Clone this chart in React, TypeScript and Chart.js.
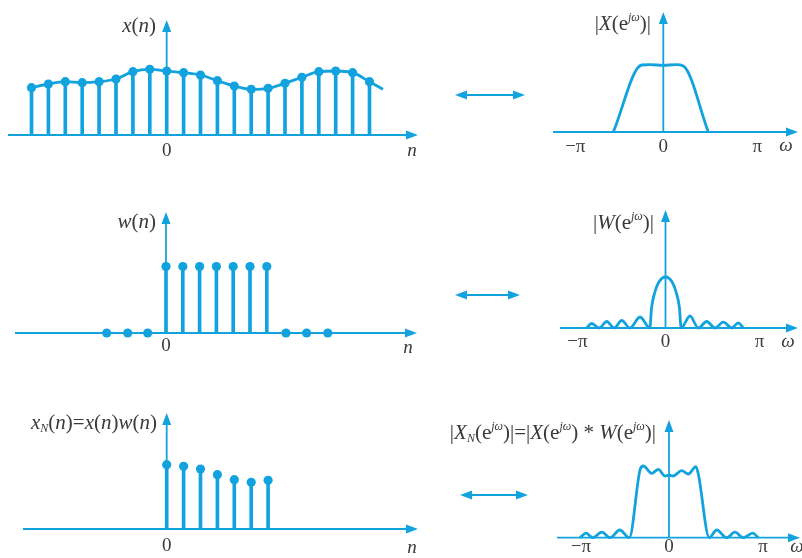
import React, { useEffect, useRef } from "react";
import { Chart, registerables } from "chart.js";
Chart.register(...registerables);

const BLUE = "#12a3de";
const TEXT = "#3a3a3a";
const SERIF = '"Liberation Serif", "DejaVu Serif", serif';

// ---------- data: x(n) ----------
const nX = [-8, -7, -6, -5, -4, -3, -2, -1, 0, 1, 2, 3, 4, 5, 6, 7, 8, 9, 10, 11, 12];
const xVals = [0.473, 0.51, 0.533, 0.523, 0.533, 0.56, 0.633, 0.657, 0.64, 0.623, 0.6, 0.543, 0.49, 0.457, 0.467, 0.517, 0.577, 0.633, 0.64, 0.623, 0.533];
const xTailN = [12.8];
const xTailVals = [0.457];

// ---------- data: w(n) ----------
const nW = [0, 1, 2, 3, 4, 5, 6];
const wVals = [0.665, 0.665, 0.665, 0.665, 0.665, 0.665, 0.665];
const wZeroN = [-3.53, -2.28, -1.09, 7.14, 8.37, 9.63];

// ---------- data: xN(n) ----------
const nXN = [0, 1, 2, 3, 4, 5, 6];
const xNVals = [0.643, 0.627, 0.6, 0.543, 0.493, 0.467, 0.487];

// ---------- data: spectra (omega in units of pi) ----------
const omegaX = [-0.543, -0.235, -0.145, 0, 0.138, 0.217, 0.489];
const magX = [0, 0.67, 0.673, 0.667, 0.673, 0.66, 0];

const omegaW = [-0.857, -0.802, -0.72, -0.639, -0.557, -0.476, -0.386, -0.277, -0.17, -0.152, -0.115, -0.072, 0, 0.072, 0.115, 0.152, 0.17, 0.266, 0.357, 0.448, 0.538, 0.628, 0.72, 0.791, 0.846];
const magW = [0, 0.045, 0, 0.065, 0, 0.075, 0, 0.11, 0, 0.2, 0.36, 0.46, 0.51, 0.46, 0.36, 0.2, 0, 0.12, 0, 0.065, 0, 0.058, 0, 0.052, 0];

const omegaXN = [-0.967, -0.9, -0.83, -0.73, -0.64, -0.535, -0.432, -0.315, -0.279, -0.188, -0.116, -0.043, 0, 0.043, 0.138, 0.21, 0.293, 0.318, 0.438, 0.518, 0.627, 0.717, 0.808, 0.91, 0.971];
const magXN = [0, 0.045, 0, 0.055, 0, 0.077, 0, 0.677, 0.717, 0.643, 0.683, 0.617, 0.625, 0.617, 0.67, 0.637, 0.71, 0.64, 0, 0.077, 0, 0.055, 0, 0.045, 0];

// ---------- tick labels ----------
const leftTicks = [{ v: 0, t: "0" }];
const rightTicks = [{ v: -1, t: "−π", dx: 4 }, { v: 0, t: "0", dx: 0 }, { v: 1, t: "π", dx: 2 }];

type Seg = { t: string; it?: boolean; sup?: boolean; sub?: boolean };

const pts = (xs: number[], ys: number[]) => xs.map((x, i) => ({ x, y: ys[i] }));

function drawRich(ctx: CanvasRenderingContext2D, segs: Seg[], x: number, y: number, align: "left" | "right" | "center", size: number) {
  const fontOf = (s: Seg) => `${s.it ? "italic " : ""}${s.sup || s.sub ? Math.round(size * 0.55) : size}px ${SERIF}`;
  let total = 0;
  const widths = segs.map((s) => {
    ctx.font = fontOf(s);
    const w = ctx.measureText(s.t).width;
    total += w;
    return w;
  });
  let cx = align === "left" ? x : align === "right" ? x - total : x - total / 2;
  ctx.textBaseline = "middle";
  ctx.textAlign = "left";
  segs.forEach((s, i) => {
    ctx.font = fontOf(s);
    const dy = s.sup ? -size * 0.3 : s.sub ? size * 0.28 : 0;
    ctx.fillText(s.t, cx, y + dy);
    cx += widths[i];
  });
}

type PanelCfg = {
  rect: { left: number; top: number; width: number; height: number };
  origin: { x: number; y: number };
  unit: { x: number; y: number };
  xAxis: [number, number];
  yAxisTop: number;
  datasets: any[];
  label: { segs: Seg[]; x: number; y: number };
  ticks: { v: number; t: string; dx?: number }[];
  tickY: number;
  varLabel: { t: string; x: number; y: number };
  arrow?: { y: number; x1: number; x2: number };
};

function head(ctx: CanvasRenderingContext2D, x: number, y: number, dir: "up" | "right" | "left") {
  const L = 12, H = 4.5;
  ctx.beginPath();
  if (dir === "up") {
    ctx.moveTo(x, y); ctx.lineTo(x - H, y + L); ctx.lineTo(x + H, y + L);
  } else if (dir === "right") {
    ctx.moveTo(x, y); ctx.lineTo(x - L, y - H); ctx.lineTo(x - L, y + H);
  } else {
    ctx.moveTo(x, y); ctx.lineTo(x + L, y - H); ctx.lineTo(x + L, y + H);
  }
  ctx.closePath();
  ctx.fill();
}

function Panel({ cfg }: { cfg: PanelCfg }) {
  const ref = useRef<HTMLCanvasElement>(null);
  useEffect(() => {
    const c = ref.current!;
    const { rect, origin, unit } = cfg;
    const xmin = (rect.left - origin.x) / unit.x;
    const xmax = (rect.left + rect.width - origin.x) / unit.x;
    const ymax = (origin.y - rect.top) / unit.y;
    const ymin = (origin.y - rect.top - rect.height) / unit.y;
    const lx = (p: number) => p - rect.left;
    const ly = (p: number) => p - rect.top;
    const deco = {
      id: "deco",
      beforeDatasetsDraw(chart: any) {
        const ctx: CanvasRenderingContext2D = chart.ctx;
        const xs = chart.scales.x, ys = chart.scales.y;
        const y0 = ys.getPixelForValue(0), x0 = xs.getPixelForValue(0);
        ctx.save();
        ctx.strokeStyle = BLUE;
        ctx.fillStyle = BLUE;
        ctx.lineWidth = 1.8;
        ctx.beginPath();
        ctx.moveTo(lx(cfg.xAxis[0]), y0);
        ctx.lineTo(lx(cfg.xAxis[1]) - 8, y0);
        ctx.moveTo(x0, y0);
        ctx.lineTo(x0, ly(cfg.yAxisTop) + 8);
        ctx.stroke();
        head(ctx, lx(cfg.xAxis[1]), y0, "right");
        head(ctx, x0, ly(cfg.yAxisTop), "up");
        if (cfg.arrow) {
          const a = cfg.arrow;
          ctx.lineWidth = 2;
          ctx.beginPath();
          ctx.moveTo(lx(a.x1) + 8, ly(a.y));
          ctx.lineTo(lx(a.x2) - 8, ly(a.y));
          ctx.stroke();
          head(ctx, lx(a.x1), ly(a.y), "left");
          head(ctx, lx(a.x2), ly(a.y), "right");
        }
        ctx.restore();
      },
      afterDraw(chart: any) {
        const ctx: CanvasRenderingContext2D = chart.ctx;
        const xs = chart.scales.x;
        ctx.save();
        ctx.fillStyle = TEXT;
        drawRich(ctx, cfg.label.segs, lx(cfg.label.x), ly(cfg.label.y), "right", 21);
        cfg.ticks.forEach((tk) => {
          drawRich(ctx, [{ t: tk.t }], xs.getPixelForValue(tk.v) + (tk.dx || 0), ly(cfg.tickY), "center", 19);
        });
        drawRich(ctx, [{ t: cfg.varLabel.t, it: true }], lx(cfg.varLabel.x), ly(cfg.varLabel.y), "center", 19);
        ctx.restore();
      },
    };
    const chart = new Chart(c, {
      type: "scatter",
      data: { datasets: cfg.datasets },
      options: {
        animation: false,
        responsive: false,
        maintainAspectRatio: false,
        events: [],
        layout: { padding: 0, autoPadding: false },
        plugins: { legend: { display: false }, tooltip: { enabled: false }, title: { display: false } },
        scales: {
          x: { type: "linear", display: false, min: xmin, max: xmax, offset: false },
          y: { type: "linear", display: false, min: ymin, max: ymax },
        },
      } as any,
      plugins: [deco],
    });
    return () => chart.destroy();
  }, []);
  const r = cfg.rect;
  return (
    <canvas
      ref={ref}
      width={r.width}
      height={r.height}
      style={{ position: "absolute", left: r.left, top: r.top, width: r.width, height: r.height }}
    />
  );
}

const stems = (xs: number[], ys: number[]) => ({
  type: "bar",
  data: pts(xs, ys),
  backgroundColor: BLUE,
  borderWidth: 0,
  barThickness: 3,
  order: 3,
});
const dots = (xs: number[], ys: number[]) => ({
  type: "scatter",
  data: pts(xs, ys),
  backgroundColor: BLUE,
  borderWidth: 0,
  pointRadius: 4.6,
  showLine: false,
  order: 1,
});
const curve = (xs: number[], ys: number[]) => ({
  type: "line",
  data: pts(xs, ys),
  borderColor: BLUE,
  borderWidth: 2.8,
  pointRadius: 0,
  fill: false,
  showLine: true,
  cubicInterpolationMode: "monotone",
  order: 2,
});

const panels: PanelCfg[] = [
  {
    rect: { left: 0, top: 0, width: 430, height: 175 },
    origin: { x: 166.7, y: 135 },
    unit: { x: 16.9, y: 100 },
    xAxis: [8, 418],
    yAxisTop: 20,
    datasets: [
      curve([...nX, ...xTailN], [...xVals, ...xTailVals]),
      stems(nX, xVals),
      dots(nX, xVals),
    ],
    label: { segs: [{ t: "x", it: true }, { t: "(" }, { t: "n", it: true }, { t: ")" }], x: 156, y: 26 },
    ticks: leftTicks,
    tickY: 151,
    varLabel: { t: "n", x: 412, y: 151 },
  },
  {
    rect: { left: 0, top: 185, width: 430, height: 180 },
    origin: { x: 166, y: 333 },
    unit: { x: 16.8, y: 100 },
    xAxis: [15, 417],
    yAxisTop: 212,
    datasets: [stems(nW, wVals), dots(nW, wVals), dots(wZeroN, wZeroN.map(() => 0))],
    label: { segs: [{ t: "w", it: true }, { t: "(" }, { t: "n", it: true }, { t: ")" }], x: 156, y: 222 },
    ticks: leftTicks,
    tickY: 346,
    varLabel: { t: "n", x: 408, y: 348 },
  },
  {
    rect: { left: 0, top: 380, width: 430, height: 178 },
    origin: { x: 166.7, y: 529 },
    unit: { x: 16.9, y: 100 },
    xAxis: [23, 418],
    yAxisTop: 413,
    datasets: [stems(nXN, xNVals), dots(nXN, xNVals)],
    label: {
      segs: [
        { t: "x", it: true }, { t: "N", it: true, sub: true }, { t: "(" }, { t: "n", it: true }, { t: ")=" },
        { t: "x", it: true }, { t: "(" }, { t: "n", it: true }, { t: ")" },
        { t: "w", it: true }, { t: "(" }, { t: "n", it: true }, { t: ")" },
      ],
      x: 157,
      y: 423,
    },
    ticks: leftTicks,
    tickY: 546,
    varLabel: { t: "n", x: 412, y: 548 },
  },
  {
    rect: { left: 430, top: 0, width: 372, height: 175 },
    origin: { x: 663.3, y: 132 },
    unit: { x: 92, y: 100 },
    xAxis: [553, 798],
    yAxisTop: 12,
    datasets: [curve(omegaX, magX)],
    label: {
      segs: [{ t: "|" }, { t: "X", it: true }, { t: "(e" }, { t: "jω", it: true, sup: true }, { t: ")|" }],
      x: 651,
      y: 24,
    },
    ticks: rightTicks,
    tickY: 147,
    varLabel: { t: "ω", x: 786, y: 146 },
    arrow: { y: 95, x1: 455, x2: 525 },
  },
  {
    rect: { left: 430, top: 185, width: 372, height: 180 },
    origin: { x: 665.5, y: 328 },
    unit: { x: 92, y: 100 },
    xAxis: [560, 798],
    yAxisTop: 210,
    datasets: [curve(omegaW, magW)],
    label: {
      segs: [{ t: "|" }, { t: "W", it: true }, { t: "(e" }, { t: "jω", it: true, sup: true }, { t: ")|" }],
      x: 654,
      y: 223,
    },
    ticks: rightTicks,
    tickY: 342,
    varLabel: { t: "ω", x: 788, y: 342 },
    arrow: { y: 295, x1: 455, x2: 520 },
  },
  {
    rect: { left: 430, top: 380, width: 372, height: 178 },
    origin: { x: 669, y: 537.7 },
    unit: { x: 92, y: 100 },
    xAxis: [557, 800],
    yAxisTop: 420,
    datasets: [curve(omegaXN, magXN)],
    label: {
      segs: [
        { t: "|" }, { t: "X", it: true }, { t: "N", it: true, sub: true }, { t: "(e" }, { t: "jω", it: true, sup: true }, { t: ")|=|" },
        { t: "X", it: true }, { t: "(e" }, { t: "jω", it: true, sup: true }, { t: ") * " },
        { t: "W", it: true }, { t: "(e" }, { t: "jω", it: true, sup: true }, { t: ")|" },
      ],
      x: 656,
      y: 433,
    },
    ticks: rightTicks,
    tickY: 547,
    varLabel: { t: "ω", x: 797, y: 547 },
    arrow: { y: 495, x1: 460, x2: 528 },
  },
];

export default function App() {
  return (
    <div style={{ position: "absolute", left: 0, top: 0, width: 802, height: 558, background: "#fff", overflow: "hidden" }}>
      {panels.map((p, i) => (
        <Panel key={i} cfg={p} />
      ))}
    </div>
  );
}
